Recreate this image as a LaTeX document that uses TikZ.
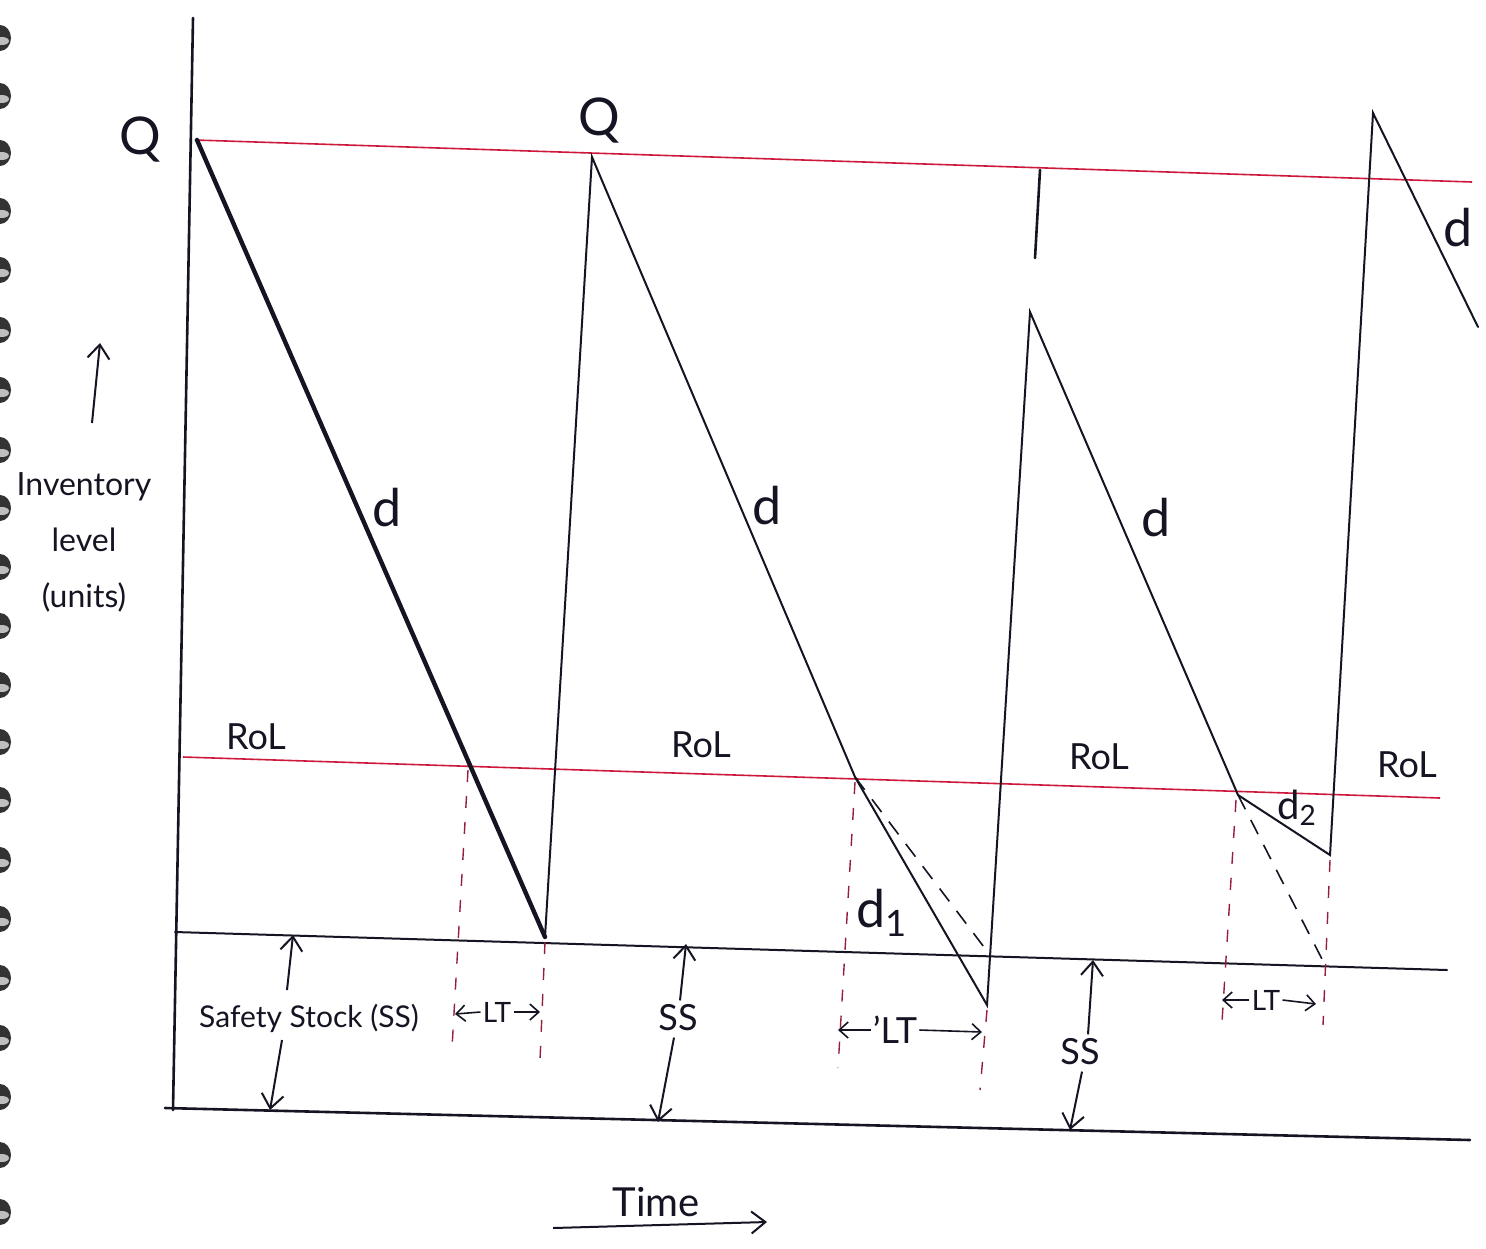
\documentclass[tikz,border=0pt]{standalone}
\usepackage{fontspec}
\setmainfont{Lato}
\usetikzlibrary{arrows.meta}
\definecolor{ink}{RGB}{20,20,35}
\definecolor{redline}{RGB}{205,25,60}
\definecolor{maroon}{RGB}{150,30,60}
\tikzset{
  inkline/.style={draw=ink, line width=1pt, line cap=round},
  thickline/.style={draw=ink, line width=2.2pt, line cap=round},
  redrule/.style={draw=redline, line width=0.8pt},
  leaddash/.style={draw=maroon, line width=0.7pt, dash pattern=on 6pt off 7pt},
  slopedash/.style={draw=ink, line width=0.8pt, dash pattern=on 8pt off 6pt},
  arr/.style={draw=ink, line width=1pt, -{Straight Barb[length=7pt,width=11pt]}},
  ltarr/.style={draw=ink, line width=0.8pt, -{Straight Barb[length=4.5pt,width=8pt]}},
  lbl/.style={text=ink, inner sep=1pt},
  big/.style={lbl, font=\fontsize{26}{28}\selectfont},
  mid/.style={lbl, font=\fontsize{18}{20}\selectfont},
  small/.style={lbl, font=\fontsize{14}{16}\selectfont},
  ring/.style={fill=black!80}
}
\begin{document}
\begin{tikzpicture}[x=0.5pt,y=-0.5pt]
\useasboundingbox (0,0) rectangle (1486,1248);
\fill[white] (0,0) rectangle (1486,1248);

% notebook rings
\foreach \yy in {38,96,153,211,270,330,390,450,508,567,626,685,742,800,860,919,978,1038,1097,1155,1212}
  { \fill[ring] (0,\yy) ellipse (11 and 13); \fill[black!25] (2,\yy+3) ellipse (7 and 4); }

% axes
\coordinate (ytop) at (193,18);
\coordinate (ybot) at (173,1110);
\coordinate (xl) at (165,1108);
\coordinate (xr) at (1470,1140);
\draw[inkline, line width=1.3pt] (ytop) -- (ybot);
\draw[inkline, line width=1.3pt] (xl) -- (xr);

% reference lines
\coordinate (Ql) at (195,140);  \coordinate (Qr) at (1472,182);
\coordinate (Rl) at (183,757);  \coordinate (Rr) at (1440,798);
\coordinate (Sl) at (175,932);  \coordinate (Sr) at (1447,970);
\draw[redrule] (Ql) -- (Qr);
\draw[redrule] (Rl) -- (Rr);
\draw[inkline] (Sl) -- (Sr);

% sawtooth points
\coordinate (P1) at (197,140);
\coordinate (B1) at (545,937);
\coordinate (P2) at (592,157);
\coordinate (R2) at (855,777);
\coordinate (B2) at (987,1005);
\coordinate (E2) at (990,955);
\coordinate (P3) at (1030,312);
\coordinate (R3) at (1238,795);
\coordinate (B3) at (1330,855);
\coordinate (E3) at (1325,965);
\coordinate (P4) at (1373,113);
\coordinate (T4) at (1478,327);

\draw[thickline] (P1) -- (B1);
\draw[inkline] (B1) -- (P2) -- (R2) -- (B2) -- (P3) -- (R3) -- (B3) -- (P4) -- (T4);
\draw[slopedash] (R2) -- (E2);
\draw[slopedash] (R3) -- (E3);

% small mark under the Q line
\coordinate (m1) at (1040,170); \coordinate (m2) at (1035,258);
\draw[inkline, line width=1.3pt] (m1) -- (m2);

% lead-time dashed verticals
\coordinate (v1t) at (468,770);  \coordinate (v1b) at (452,1048);
\coordinate (v2t) at (545,942);  \coordinate (v2b) at (540,1060);
\coordinate (v3t) at (855,782);  \coordinate (v3b) at (838,1068);
\coordinate (v4t) at (987,1010); \coordinate (v4b) at (980,1090);
\coordinate (v5t) at (1236,800); \coordinate (v5b) at (1222,1022);
\coordinate (v6t) at (1330,860); \coordinate (v6b) at (1323,1025);
\foreach \a/\b in {v1t/v1b,v2t/v2b,v3t/v3b,v4t/v4b,v5t/v5b,v6t/v6b}
  \draw[leaddash] (\a) -- (\b);

% labels Q, d, RoL
\node[big] (q1) at (140,140) {Q};
\node[big] (q2) at (599,121) {Q};
\node[big] (d1) at (387,508) {d};
\node[big] (d2) at (767,506) {d};
\node[big] (d3) at (1156,518) {d};
\node[big] (d4) at (1458,228) {d};
\node[mid] (r1) at (256,737) {RoL};
\node[mid] (r2) at (701,745) {RoL};
\node[mid] (r3) at (1099,757) {RoL};
\node[mid] (r4) at (1407,765) {RoL};
\node[big] (dd1) at (882,913) {d\textsubscript{1}};
\node[lbl, font=\fontsize{20}{22}\selectfont] (dd2) at (1297,808) {d\textsubscript{2}};

% safety stock
\node[lbl, font=\fontsize{15}{17}\selectfont] (ss1) at (309,1018) {Safety Stock (SS)};
\coordinate (ss1t) at (293,935); \coordinate (ss1b) at (270,1110);
\draw[arr] (287,990) -- (ss1t);
\draw[arr] (282,1040) -- (ss1b);

\node[mid] (ss2) at (678,1018) {SS};
\coordinate (ss2t) at (686,944); \coordinate (ss2b) at (658,1122);
\draw[arr] (ss2.north) ++(2,-2) -- (ss2t);
\draw[arr] (ss2.south) ++(-4,4) -- (ss2b);

\node[mid] (ss3) at (1080,1052) {SS};
\coordinate (ss3t) at (1093,960); \coordinate (ss3b) at (1070,1130);
\draw[arr] (ss3.north) ++(8,-2) -- (ss3t);
\draw[arr] (ss3.south) ++(2,4) -- (ss3b);

% lead time labels
\node[small] (lt1) at (497,1012) {LT};
\coordinate (lt1l) at (455,1014); \coordinate (lt1r) at (540,1012);
\draw[ltarr] (lt1.west) -- (lt1l);
\draw[ltarr] (lt1.east) -- (lt1r);

\node[mid] (lt2) at (895,1030) {'LT};
\coordinate (lt2l) at (838,1030); \coordinate (lt2r) at (982,1032);
\draw[ltarr] (lt2.west) -- (lt2l);
\draw[ltarr] (lt2.east) -- (lt2r);

\node[small] (lt3) at (1266,1000) {LT};
\coordinate (lt3l) at (1222,1000); \coordinate (lt3r) at (1316,1004);
\draw[ltarr] (lt3.west) -- (lt3l);
\draw[ltarr] (lt3.east) -- (lt3r);

% y-axis label
\node[lbl, align=center, font=\fontsize{16}{28}\selectfont] (ylab) at (84,542) {Inventory\\level\\(units)};
\coordinate (yarr) at (100,343);
\draw[arr] (92,423) -- (yarr);

% time label
\node[lbl, font=\fontsize{20}{22}\selectfont] (time) at (656,1202) {Time};
\coordinate (tl) at (553,1228); \coordinate (tr) at (767,1222);
\draw[arr] (tl) -- (tr);
\end{tikzpicture}
\end{document}
